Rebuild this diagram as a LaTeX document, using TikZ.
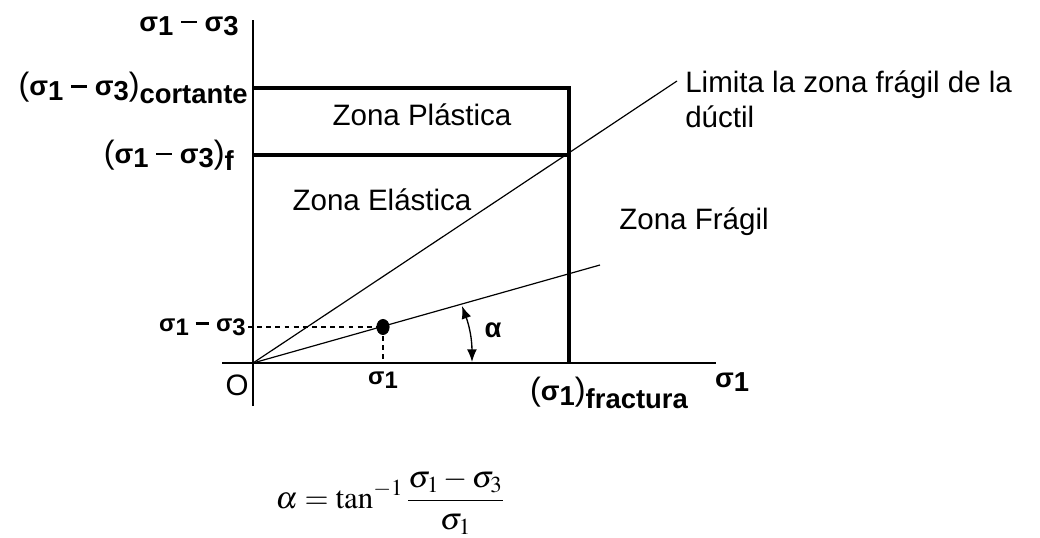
\documentclass[tikz,border=0pt]{standalone}
\usepackage{mathptmx}
\usepackage[no-math]{fontspec}
\setmainfont{Liberation Sans}
\usetikzlibrary{arrows.meta, positioning, shapes.geometric}

\newcommand{\lw}[1]{\raisebox{-0.28ex}{#1}}
\newcommand{\sub}[1]{\raisebox{-0.5ex}{#1}}
\newcommand{\sg}[1]{σ\lw{#1}}
\newcommand{\mn}{\hspace{0.28em}\rule[0.3em]{0.58em}{0.085em}\hspace{0.28em}}
\newcommand{\bpar}[1]{{\mdseries\fontsize{23}{23}\selectfont #1}}

\begin{document}
\begin{tikzpicture}[
    x=0.025cm, y=-0.025cm,
    every node/.style={inner sep=0pt},
    axisline/.style={line width=0.95pt},
    boxline/.style={line width=2.2pt},
    thinline/.style={line width=0.85pt},
    guide/.style={dashed, dash pattern=on 3.5pt off 3pt, line width=0.8pt},
    siglabel/.style={font=\fontsize{19.5}{23}\selectfont\bfseries},
    smalllabel/.style={font=\fontsize{17}{20}\selectfont\bfseries},
    zonelabel/.style={font=\fontsize{21}{25}\selectfont, align=left},
    eqlabel/.style={font=\fontsize{22}{26}\selectfont},
    dot/.style={ellipse, fill=black, minimum width=0.33cm, minimum height=0.4cm},
    arrow/.style={{Latex[length=9pt,width=7pt]}-{Latex[length=9pt,width=7pt]}, line width=0.95pt}
]
\useasboundingbox (0,0) rectangle (1040,538);

\coordinate (O) at (253,363);
\coordinate (ytop) at (253,20);
\coordinate (ybot) at (253,406);
\coordinate (xleft) at (222,363);
\coordinate (xright) at (716,363);
\coordinate (cort) at (253,88);
\coordinate (cortend) at (569,88);
\coordinate (fl) at (253,155);
\coordinate (flend) at (569,155);
\coordinate (fracbase) at (569,363);
\coordinate (upend) at (677,81);
\coordinate (lowend) at (600,265);
\coordinate (pleft) at (248,327);
\coordinate (pbase) at (383,363);
\coordinate (atop) at (462,306);
\coordinate (abot) at (472,362);

\node (pt) [dot] at (383,327) {};

\draw [axisline] (ybot) -- (ytop);
\draw [axisline] (xleft) -- (xright);
\draw [boxline] (cort) -- (cortend) -- (fracbase);
\draw [boxline] (fl) -- (flend);
\draw [thinline] (O) -- (upend);
\draw [thinline] (O) -- (lowend);
\draw [guide] (pleft) -- (pt.center);
\draw [guide] (pt.center) -- (pbase);
\draw [arrow] (atop) to[bend left=10] (abot);

\node (ylab) [siglabel] at (189,26) {\sg{1}\mn\sg{3}};
\node (ycort) [siglabel, anchor=east] at (248,88) {\bpar{(}\sg{1}\mn\sg{3}\bpar{)}\sub{cortante}};
\node (yf) [siglabel, anchor=east] at (234,155) {\bpar{(}\sg{1}\mn\sg{3}\bpar{)}\sub{f}};
\node (yp) [smalllabel, anchor=east] at (246,327) {\sg{1}\mn\sg{3}};
\node (orig) [zonelabel] at (237,385) {O};
\node (xp) [smalllabel] at (383,380) {\sg{1}};
\node (xfrac) [siglabel] at (609,393) {\bpar{(}\sg{1}\bpar{)}\sub{fractura}};
\node (xlab) [siglabel] at (732,382) {\sg{1}};
\node (alab) [siglabel] at (493,330) {α};

\node (plast) [zonelabel] at (422,115) {Zona Plástica};
\node (elast) [zonelabel] at (382,200) {Zona Elástica};
\node (frag) [zonelabel] at (694,222) {Zona Frágil};
\node (limit) [zonelabel, anchor=north west] at (685,70) {Limita la zona frágil de la\\dúctil};

\node (eq) [eqlabel] at (390,502) {$\displaystyle \alpha = \tan^{-1}\frac{\sigma_1-\sigma_3}{\sigma_1}$};
\end{tikzpicture}
\end{document}
